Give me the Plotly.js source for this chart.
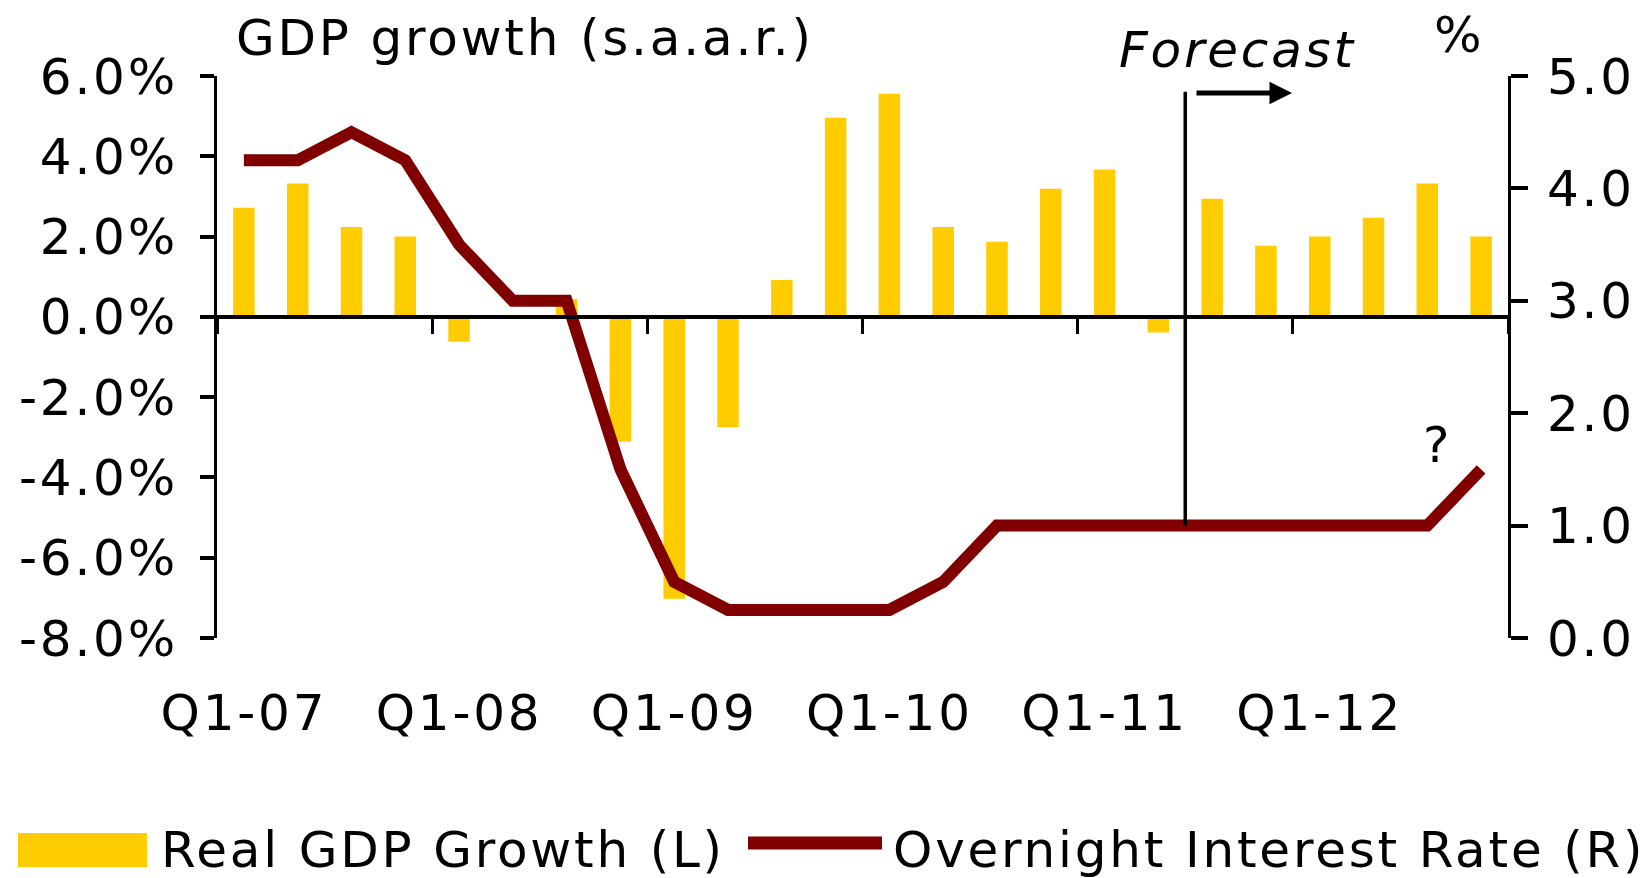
<!DOCTYPE html>
<html>
<head>
<meta charset="utf-8">
<script src="https://cdn.plot.ly/plotly-3.0.1.min.js"></script>
<style>
  html, body { margin: 0; padding: 0; background: #ffffff; }
  #chart { width: 1645px; height: 878px; }
  text { letter-spacing: 2.8px; }
</style>
</head>
<body>
<div id="chart"></div>
<script>
// ---- Data ----
const quarters = [
  'Q1-07','Q2-07','Q3-07','Q4-07',
  'Q1-08','Q2-08','Q3-08','Q4-08',
  'Q1-09','Q2-09','Q3-09','Q4-09',
  'Q1-10','Q2-10','Q3-10','Q4-10',
  'Q1-11','Q2-11','Q3-11','Q4-11',
  'Q1-12','Q2-12','Q3-12','Q4-12'
];
// Real GDP growth, % s.a.a.r. (left axis)
const gdpGrowth = [
  2.72, 3.32, 2.24, 2.00,
  -0.62, 0.05, 0.44, -3.11,
  -7.02, -2.75, 0.92, 4.96,
  5.56, 2.24, 1.87, 3.19,
  3.67, -0.39, 2.94, 1.77,
  2.00, 2.47, 3.32, 2.00
];
// Overnight interest rate, % (right axis)
const overnightRate = [
  4.25, 4.25, 4.50, 4.25,
  3.50, 3.00, 3.00, 1.50,
  0.50, 0.25, 0.25, 0.25,
  0.25, 0.50, 1.00, 1.00,
  1.00, 1.00, 1.00, 1.00,
  1.00, 1.00, 1.00, 1.50
];
const xTickLabels = ['Q1-07','Q1-08','Q1-09','Q1-10','Q1-11','Q1-12'];
const yearBoundaries = [-0.5, 3.5, 7.5, 11.5, 15.5, 19.5, 23.5];
const leftTickVals = [-8, -6, -4, -2, 0, 2, 4, 6];
const leftTickText = ['-8.0%','-6.0%','-4.0%','-2.0%','0.0%','2.0%','4.0%','6.0%'];
const rightTickVals = [0, 1, 2, 3, 4, 5];
const rightTickText = ['0.0','1.0','2.0','3.0','4.0','5.0'];
const seriesNames = ['Real GDP Growth (L)', 'Overnight Interest Rate (R)'];
const chartTitle = 'GDP growth (s.a.a.r.)';
const forecastLabel = 'Forecast';
const forecastStart = 17.5;      // boundary between Q2-11 and Q3-11
const rightUnit = '%';
const questionMark = '?';

// ---- Styling / layout ----
const W = 1645, H = 878;
const M = { l: 217, r: 137, t: 76, b: 240 };
const PW = W - M.l - M.r, PH = H - M.t - M.b;
const px2x = p => (p - M.l) / PW;          // pixel -> paper x
const px2y = p => (H - M.b - p) / PH;      // pixel -> paper y
const FONT = 'DejaVu Sans, Verdana, sans-serif';
const FS = 50;
const YELLOW = '#FFCC00';
const MAROON = '#800000';

const traces = [
  {
    type: 'bar',
    name: seriesNames[0],
    x: quarters,
    y: gdpGrowth,
    marker: { color: YELLOW, line: { width: 0 } },
    xaxis: 'x', yaxis: 'y',
    showlegend: false,
    hoverinfo: 'x+y'
  },
  {
    type: 'scatter',
    mode: 'lines',
    name: seriesNames[1],
    x: quarters,
    y: overnightRate,
    line: { color: MAROON, width: 12 },
    xaxis: 'x2', yaxis: 'y2',
    showlegend: false,
    hoverinfo: 'x+y'
  }
];

const axisFont = { family: FONT, size: FS, color: '#000' };

const layout = {
  width: W, height: H,
  margin: M,
  paper_bgcolor: '#ffffff',
  plot_bgcolor: '#ffffff',
  font: axisFont,
  showlegend: false,
  bargap: 0.6,
  // axis crossing at 0% : line + year-boundary ticks, no labels
  xaxis: {
    type: 'category',
    categoryorder: 'array',
    categoryarray: quarters,
    range: [-0.5, 23.5],
    anchor: 'free',
    position: 8 / 14,
    tickmode: 'array',
    tickvals: yearBoundaries,
    ticks: 'outside', ticklen: 15, tickwidth: 3, tickcolor: '#000',
    showticklabels: false,
    showline: true, linewidth: 4, linecolor: '#000',
    showgrid: false, zeroline: false,
    fixedrange: true
  },
  // labels along the bottom
  xaxis2: {
    type: 'category',
    categoryorder: 'array',
    categoryarray: quarters,
    range: [-0.5, 23.5],
    overlaying: 'x',
    anchor: 'y2',
    side: 'bottom',
    tickmode: 'array',
    tickvals: xTickLabels,
    ticktext: xTickLabels,
    showline: false, showgrid: false, zeroline: false,
    ticks: '',
    ticklabelstandoff: 41,
    tickfont: axisFont,
    fixedrange: true
  },
  yaxis: {
    range: [-8, 6],
    tickmode: 'array',
    tickvals: leftTickVals,
    ticktext: leftTickText,
    showline: true, linewidth: 3, linecolor: '#000',
    ticks: 'outside', ticklen: 14, tickwidth: 4, tickcolor: '#000',
    showgrid: false, zeroline: false,
    ticklabelstandoff: 12,
    tickfont: axisFont,
    fixedrange: true
  },
  yaxis2: {
    overlaying: 'y',
    side: 'right',
    anchor: 'x2',
    range: [0, 5],
    tickmode: 'array',
    tickvals: rightTickVals,
    ticktext: rightTickText,
    showline: true, linewidth: 3, linecolor: '#000',
    ticks: 'outside', ticklen: 17, tickwidth: 4, tickcolor: '#000',
    showgrid: false, zeroline: false,
    ticklabelstandoff: 9,
    tickfont: axisFont,
    fixedrange: true
  },
  title: {
    text: chartTitle,
    font: { family: FONT, size: FS, color: '#000' },
    xref: 'container', yref: 'container',
    x: 236 / W, xanchor: 'left',
    y: 1 - 37 / H, yanchor: 'middle',
    pad: { t: 0, b: 0, l: 0, r: 0 }
  },
  shapes: [
    // forecast divider
    {
      type: 'line', xref: 'x', yref: 'y2',
      x0: forecastStart, x1: forecastStart, y0: 1.0, y1: 4.86,
      line: { color: '#000', width: 3.5 }
    },
    // legend swatch: bars
    {
      type: 'rect', xref: 'paper', yref: 'paper',
      x0: px2x(18), x1: px2x(147), y0: px2y(867), y1: px2y(833),
      fillcolor: YELLOW, line: { width: 0 }
    },
    // legend swatch: line
    {
      type: 'line', xref: 'paper', yref: 'paper',
      x0: px2x(748), x1: px2x(882), y0: px2y(843), y1: px2y(843),
      line: { color: MAROON, width: 13 }
    }
  ],
  annotations: [
    {
      text: '<i>' + forecastLabel + '</i>',
      xref: 'paper', yref: 'paper',
      x: px2x(1237), y: px2y(50), xanchor: 'center', yanchor: 'middle',
      showarrow: false, font: { family: FONT, size: FS, color: '#000' }
    },
    {
      text: '',
      xref: 'paper', yref: 'paper',
      x: px2x(1292), y: px2y(93),
      ax: -97, ay: 0,
      showarrow: true, arrowhead: 2, arrowsize: 0.9, arrowwidth: 5,
      arrowcolor: '#000', standoff: 0, startstandoff: 0
    },
    {
      text: rightUnit,
      xref: 'paper', yref: 'paper',
      x: px2x(1459), y: px2y(35), xanchor: 'center', yanchor: 'middle',
      showarrow: false, font: { family: FONT, size: FS, color: '#000' }
    },
    {
      text: questionMark,
      xref: 'paper', yref: 'paper',
      x: px2x(1437), y: px2y(445), xanchor: 'center', yanchor: 'middle',
      showarrow: false, font: { family: FONT, size: FS, color: '#000' }
    },
    {
      text: seriesNames[0],
      xref: 'paper', yref: 'paper',
      x: px2x(159), y: px2y(850), xanchor: 'left', yanchor: 'middle',
      showarrow: false, font: { family: FONT, size: FS, color: '#000' }
    },
    {
      text: seriesNames[1],
      xref: 'paper', yref: 'paper',
      x: px2x(891), y: px2y(850), xanchor: 'left', yanchor: 'middle',
      showarrow: false, font: { family: FONT, size: FS, color: '#000' }
    }
  ]
};

Plotly.newPlot('chart', traces, layout, { displayModeBar: false, staticPlot: true });
</script>
</body>
</html>
